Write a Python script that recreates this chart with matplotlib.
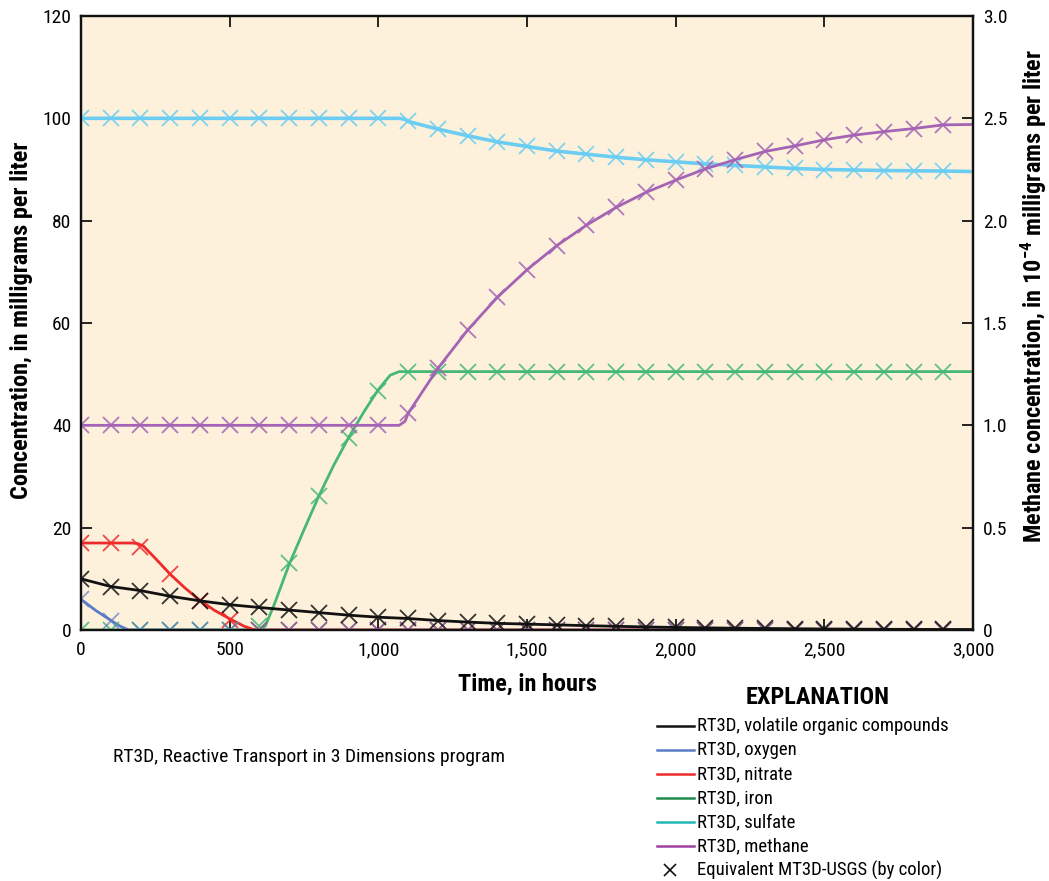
import matplotlib
matplotlib.use("Agg")
import matplotlib.pyplot as plt
from matplotlib.lines import Line2D
from matplotlib.ticker import FuncFormatter, MultipleLocator

plt.rcParams['font.family'] = ['Roboto Condensed', 'DejaVu Sans']
plt.rcParams['mathtext.fontset'] = 'custom'
plt.rcParams['mathtext.rm'] = 'Roboto Condensed'
plt.rcParams['mathtext.bf'] = 'Roboto Condensed:bold'

# ---- MT3D-USGS results (sampled every 100 hours) ----
t_mt3d = list(range(0, 3000, 100))
voc_mt3d = [10.0, 8.5, 7.7, 6.6, 5.7, 4.95, 4.4, 3.9, 3.4, 2.9,
            2.5, 2.25, 1.85, 1.55, 1.3, 1.15, 1.0, 0.85, 0.72, 0.6,
            0.5, 0.42, 0.35, 0.3, 0.25, 0.2, 0.17, 0.14, 0.12, 0.1]
oxygen_mt3d = [6.0, 1.8] + [0.0] * 28
nitrate_mt3d = [17.0, 17.0, 16.3, 10.9, 5.7, 2.0] + [0.0] * 24
iron_mt3d = [0.0] * 6 + [0.8, 13.0, 26.2, 37.6, 46.8] + [50.5] * 19
sulfate_mt3d = [100.0] * 11 + [99.4, 97.9, 96.6, 95.4, 94.5, 93.6, 93.0, 92.4, 91.9,
                              91.5, 91.1, 90.8, 90.5, 90.2, 90.0, 89.9, 89.8, 89.75, 89.7]
# methane, in 10^-4 milligrams per liter
methane_mt3d = [1.0] * 11 + [1.058, 1.278, 1.465, 1.625, 1.76, 1.878, 1.978, 2.065, 2.138,
                            2.198, 2.253, 2.298, 2.338, 2.365, 2.395, 2.418, 2.435, 2.45, 2.468]

# ---- RT3D results ----
t_voc = list(range(0, 3100, 100))
voc_rt3d = voc_mt3d + [0.08]

t_oxygen = [0, 50, 100, 130, 160, 3000]
oxygen_rt3d = [6.0, 3.8, 1.9, 0.8, 0.0, 0.0]

t_nitrate = [0, 100, 170, 190, 210, 250, 300, 350, 400, 450, 500, 550, 580, 600, 3000]
nitrate_rt3d = [17.0, 17.0, 17.0, 16.9, 16.4, 14.0, 10.9, 8.2, 5.8, 3.8, 2.2, 0.7, 0.1, 0.0, 0.0]

t_iron = [0, 600, 620, 650, 700, 750, 800, 850, 900, 950, 1000, 1040, 1070, 1100, 3000]
iron_rt3d = [0.0, 0.0, 0.8, 5.0, 12.8, 19.6, 26.2, 32.2, 37.6, 42.5, 47.0, 49.8, 50.5, 50.5, 50.5]

t_sulfate = [0, 1000, 1070, 1090] + list(range(1100, 3100, 100))
sulfate_rt3d = [100.0, 100.0, 100.0, 99.8] + sulfate_mt3d[11:] + [89.6]

t_methane = [0, 1000, 1070, 1090] + list(range(1100, 3100, 100))
methane_rt3d = [1.0, 1.0, 1.0, 1.02] + methane_mt3d[11:] + [2.47]

colors = {
    'voc': '#111111',
    'oxygen': '#5a7cc6',
    'nitrate': '#ee2a2a',
    'iron': '#46b874',
    'sulfate': '#6ccdf2',
    'methane': '#a463b4',
}
legend_colors = ['#111111', '#5a7cc6', '#ee2a2a', '#1f8a4c', '#22b7b7', '#a040a0']
legend_labels = ['RT3D, volatile organic compounds', 'RT3D, oxygen', 'RT3D, nitrate',
                 'RT3D, iron', 'RT3D, sulfate', 'RT3D, methane']

W, H = 1049, 881
fig = plt.figure(figsize=(W / 100, H / 100), dpi=100)
ax = fig.add_axes([81 / W, 1 - 630 / H, (973 - 81) / W, (630 - 16) / H])
ax.set_facecolor('#fdf1dc')
ax2 = ax.twinx()

lw = 2.0
mk = dict(marker='x', linestyle='none', markersize=11, markeredgewidth=1.3)

ax.plot(t_iron, iron_rt3d, color=colors['iron'], lw=lw, zorder=3)
ax.plot(t_mt3d, iron_mt3d, color=colors['iron'], alpha=0.85, zorder=4, **mk)
ax.plot(t_oxygen, oxygen_rt3d, color=colors['oxygen'], lw=lw, zorder=3)
ax.plot(t_nitrate, nitrate_rt3d, color=colors['nitrate'], lw=lw, zorder=3)
ax.plot(t_mt3d, nitrate_mt3d, color=colors['nitrate'], alpha=0.85, zorder=4, **mk)
ax.plot(t_mt3d, oxygen_mt3d, color=colors['oxygen'], alpha=0.7, zorder=4, **mk)
ax.plot(t_sulfate, sulfate_rt3d, color=colors['sulfate'], lw=lw + 0.6, zorder=3)
ax.plot(t_mt3d, sulfate_mt3d, color=colors['sulfate'], alpha=0.85, zorder=4, **mk)
ax.plot(t_voc, voc_rt3d, color=colors['voc'], lw=lw, zorder=5)
ax.plot(t_mt3d, voc_mt3d, color=colors['voc'], alpha=0.85, zorder=6, **mk)

ax2.plot(t_methane, methane_rt3d, color=colors['methane'], lw=lw)
ax2.plot(t_mt3d, methane_mt3d, color=colors['methane'], alpha=0.85, **mk)

ax.set_xlim(0, 3000)
ax.set_ylim(0, 120)
ax2.set_ylim(0, 3.0)

ax.xaxis.set_major_locator(MultipleLocator(500))
ax.yaxis.set_major_locator(MultipleLocator(20))
ax2.yaxis.set_major_locator(MultipleLocator(0.5))
ax.xaxis.set_major_formatter(FuncFormatter(lambda v, p: f"{int(v):,}"))
ax2.yaxis.set_major_formatter(FuncFormatter(lambda v, p: "0" if v == 0 else f"{v:.1f}"))

for a in (ax, ax2):
    for s in a.spines.values():
        s.set_linewidth(1.6)
        s.set_color('#111111')
ax.tick_params(axis='both', direction='in', length=8, width=1.2, labelsize=14, pad=7,
               top=True, right=False)
ax.tick_params(axis='x', pad=8)
ax2.tick_params(axis='y', direction='in', length=8, width=1.2, labelsize=14, pad=7)

ax.set_xlabel('Time, in hours', fontsize=17.5, fontweight='bold', labelpad=10)
fig.text(22 / W, 1 - 320 / H, 'Concentration, in milligrams per liter', rotation=90,
         fontsize=17.5, fontweight='bold', ha='center', va='center')
fig.text(1034 / W, 1 - 296 / H,
         r'Methane concentration, in $\mathbf{10^{-4}}$ milligrams per liter',
         rotation=90, fontsize=17.5, fontweight='bold', ha='center', va='center')

# Explanation block
fig.text(818 / W, 1 - 697 / H, 'EXPLANATION', fontsize=17.5, fontweight='bold',
         ha='center', va='center')
rows_y = [726, 750, 774, 798, 822, 846]
for yy, c, lab in zip(rows_y, legend_colors, legend_labels):
    fig.add_artist(Line2D([657 / W, 694 / W], [1 - yy / H, 1 - yy / H], color=c, lw=1.8,
                          transform=fig.transFigure))
    fig.text(697 / W, 1 - yy / H, lab, fontsize=13.5, ha='left', va='center')
fig.add_artist(Line2D([670 / W], [1 - 870 / H], marker='x', color='#111111', markersize=9,
                      markeredgewidth=1.2, linestyle='none', transform=fig.transFigure))
fig.text(697 / W, 1 - 870 / H, 'Equivalent MT3D-USGS (by color)', fontsize=13.5,
         ha='left', va='center')

fig.text(113 / W, 1 - 757 / H, 'RT3D, Reactive Transport in 3 Dimensions program',
         fontsize=14, ha='left', va='center')

fig.savefig('out.png', dpi=100)
